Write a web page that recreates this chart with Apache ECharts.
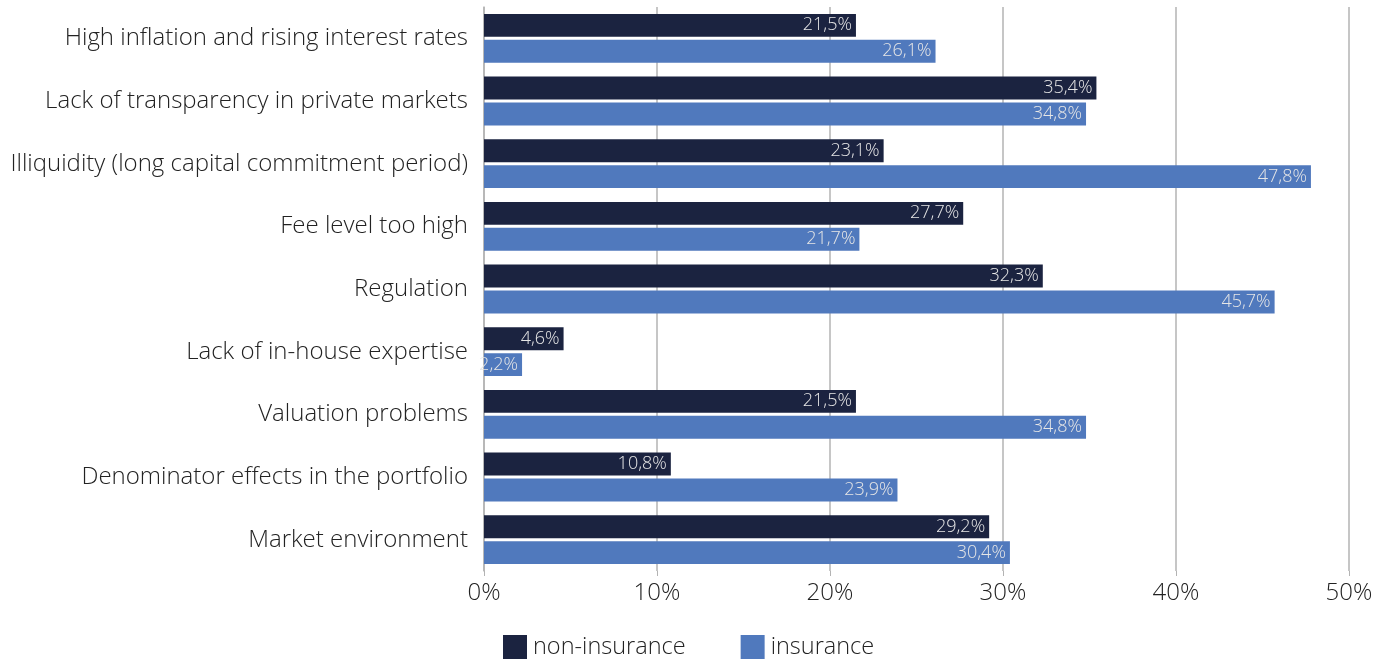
<!DOCTYPE html>
<html><head><meta charset="utf-8">
<script src="https://cdn.jsdelivr.net/npm/echarts@6/dist/echarts.min.js"></script>
<style>html,body{margin:0;padding:0;background:#fff}#c{width:1389px;height:662px}</style>
</head><body><div id="c"></div>
<script>
const categories = ["High inflation and rising interest rates","Lack of transparency in private markets","Illiquidity (long capital commitment period)","Fee level too high","Regulation","Lack of in-house expertise","Valuation problems","Denominator effects in the portfolio","Market environment"];
const nonInsurance = [21.5,35.4,23.1,27.7,32.3,4.6,21.5,10.8,29.2];
const insurance = [26.1,34.8,47.8,21.7,45.7,2.2,34.8,23.9,30.4];
const xTicks = [0,10,20,30,40,50];
const FONT = "'Open Sans', 'Noto Sans', sans-serif";
const fmt = v => v.toFixed(1).replace('.', ',') + '%';
const chart = echarts.init(document.getElementById('c'), null, {renderer:'canvas'});
const lbl = {show:true, position:'insideRight', distance:4, color:'#e6e6e6', fontFamily:FONT, fontSize:18, fontWeight:300, formatter:p=>fmt(p.value)};
chart.setOption({
  animation:false,
  textStyle:{fontFamily:FONT},
  grid:{left:484, right:40, top:7, height:564, containLabel:false},
  legend:{top:630, left:498, itemWidth:24, itemHeight:24, itemGap:55, icon:'rect',
    textStyle:{fontFamily:FONT, fontSize:23.5, color:'#222', fontWeight:300, padding:[0,0,0,1]},
    data:['non-insurance','insurance']},
  xAxis:{type:'value', min:0, max:50, interval:10,
    axisLine:{show:false}, axisTick:{show:true, length:5, lineStyle:{color:'#b3b3b3'}},
    splitLine:{show:true, lineStyle:{color:'#b3b3b3', width:1.5}},
    axisLabel:{fontFamily:FONT, fontSize:24, color:'#222', margin:10, fontWeight:300, formatter:v=>v+'%'}},
  yAxis:{type:'category', inverse:true, data:categories,
    axisLine:{show:true, lineStyle:{color:'#b3b3b3', width:1.5}}, axisTick:{show:false},
    axisLabel:{fontFamily:FONT, fontSize:24, color:'#222', margin:16, fontWeight:300}},
  series:[
    {name:'non-insurance', type:'bar', data:nonInsurance, itemStyle:{color:'#1b2340'}, barGap:'13%', barCategoryGap:'22%', label:lbl},
    {name:'insurance', type:'bar', data:insurance, itemStyle:{color:'#5079bd'}, barGap:'13%', barCategoryGap:'22%', label:lbl}
  ]
});
</script></body></html>
